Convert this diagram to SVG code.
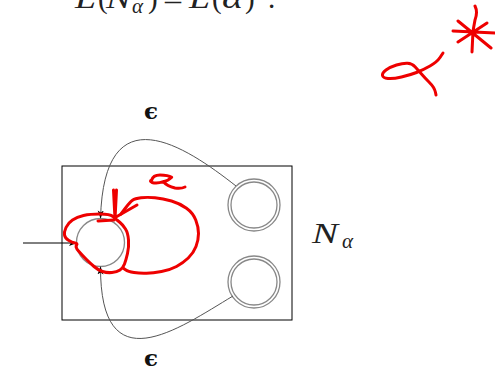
<svg xmlns="http://www.w3.org/2000/svg" width="495" height="367" viewBox="0 0 495 367">
<defs>
<style>
.math{font-family:"Liberation Serif","DejaVu Serif",serif;fill:#222}
.it{font-style:italic}
.eps{font-family:"DejaVu Serif",serif;font-weight:bold;font-size:23px;fill:#111}
.state{fill:none;stroke:#888;stroke-width:1.3}
.edge{fill:none;stroke:#555;stroke-width:1}
.red{fill:none;stroke:#ee0000;stroke-width:3;stroke-linecap:round;stroke-linejoin:round}
</style>
<marker id="ah" markerUnits="userSpaceOnUse" markerWidth="8" markerHeight="8" viewBox="0 0 8 8" refX="8" refY="4" orient="auto">
<path d="M0,1 L8,4 L0,7 L2,4 z" fill="#000"/>
</marker>
</defs>
<rect width="495" height="367" fill="#fff"/>

<g id="equation" class="math" font-size="29">
<text x="75" y="8" class="it" textLength="21" lengthAdjust="spacingAndGlyphs">L</text>
<text x="98" y="8">(</text>
<text x="106" y="8" class="it" textLength="25" lengthAdjust="spacingAndGlyphs">N</text>
<text x="132" y="13" class="it" font-size="21">α</text>
<text x="148" y="8">)</text>
<text x="163" y="9.5" textLength="20" lengthAdjust="spacingAndGlyphs">=</text>
<text x="189" y="8" class="it" textLength="21" lengthAdjust="spacingAndGlyphs">L</text>
<text x="212" y="8">(</text>
<text x="222" y="8" class="it" textLength="21" lengthAdjust="spacingAndGlyphs">α</text>
<text x="245" y="8">)</text>
<text x="268" y="8">.</text>
</g>

<g id="automaton-box">
<rect x="62" y="166" width="230" height="154" fill="none" stroke="#000" stroke-width="1"/>
</g>

<g id="start-state">
<circle cx="100.5" cy="242.5" r="24" class="state"/>
</g>
<g id="accept-top">
<circle cx="254" cy="205" r="26" class="state"/>
<circle cx="254" cy="205" r="23" class="state"/>
</g>
<g id="accept-bottom">
<circle cx="254" cy="282" r="26" class="state"/>
<circle cx="254" cy="282" r="23" class="state"/>
</g>

<g id="label-N">
<text x="312" y="243" class="math it" font-size="30" textLength="26" lengthAdjust="spacingAndGlyphs">N</text>
<text x="342" y="248" class="math it" font-size="21">α</text>
</g>

<g id="connectors">
<line x1="23" y1="243" x2="77" y2="243" stroke="#000" stroke-width="1" marker-end="url(#ah)"/>
<path d="M236,186 C185,146 104,92 100.5,218.5" class="edge" marker-end="url(#ah)"/>
<path d="M233,296 C178,329 100,385 100.5,266.5" class="edge" marker-end="url(#ah)"/>
<text x="144" y="119" class="eps">ϵ</text>
<text x="144" y="366" class="eps">ϵ</text>
</g>

<g id="annotations">
<path class="red" d="M116,219 L113,216.5 Q110,214 100,214 Q90,214 83.5,215.5 Q77,217 72.5,220 Q68,223 66,227.5 Q64,232 64.5,235 Q65,238 68.5,240.25 Q72,242.5 75,243 Q78,243.5 76.5,245.25 Q75,247 78.5,251 Q82,255 86,259 Q90,263 94,266.5 Q98,270 102.5,271.5 Q107,273 112,272.5 Q117,272 120,270 Q123,268 124.5,264 Q126,260 127.5,253.5 Q129,247 128.5,240 Q128,233 125.5,229 Q123,225 120,222.5 L117,220"/>
<path class="red" d="M98,221 L114,220"/>
<path class="red" d="M121,214 L125.5,208 Q130,202 132.5,200.25 Q135,198.5 141,197.75 Q147,197 155,197.75 Q163,198.5 171.5,201 Q180,203.5 186.5,208.25 Q193,213 195.75,220 Q198.5,227 198.5,233.5 Q198.5,240 196,246.5 Q193.5,253 188.25,258 Q183,263 176.5,266.5 Q170,270 161.5,271.5 Q153,273 146.5,273.25 Q140,273.5 134,272.5 Q128,271.5 125.5,269.75 L123,268"/>
<path class="red" d="M113.5,190 L115,219 M116.5,190 L115,219 M116,217 L137,205"/>
<path class="red" d="M151.7,180 Q153,175 160,175 Q168,175 171.7,177.3 Q168,181 163.3,181.7 Q157,184 152,182.5 Q149,181 151.7,180 M163.3,181.7 Q167,186 175,188 Q181,189 185,187"/>
<path class="red" d="M443,53 L440,57.5 Q437,62 430,66 Q423,70 416.5,72.5 Q410,75 401.5,77 Q393,79 388,78.5 Q383,78 382.5,75.5 Q382,73 386,70 Q390,67 396.5,65 Q403,63 407.5,63.25 Q412,63.5 415,66.75 Q418,70 421.5,74 Q425,78 428.5,81.5 Q432,85 433.5,87.5 Q435,90 435.5,92.5 L436,95"/>
<path class="red" d="M475,6 Q478,12 475,20 L473,31 L472,52 M453,31 L495,33 M458,21 L491,48 M458,42 L487,23"/>
</g>
</svg>
